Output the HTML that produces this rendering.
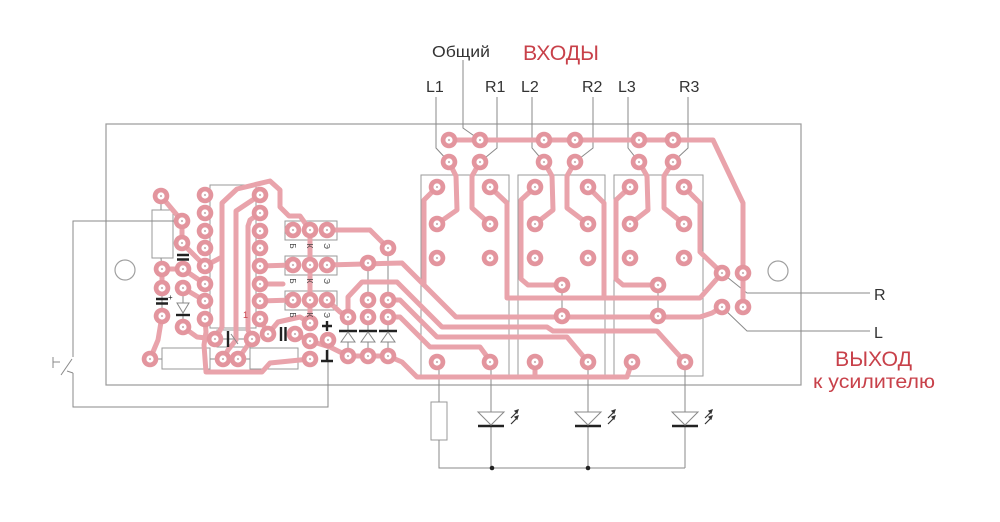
<!DOCTYPE html>
<html><head><meta charset="utf-8"><style>
html,body{margin:0;padding:0;background:#fff;}
svg{display:block;}
text{font-family:"Liberation Sans",Arial,sans-serif;}
</style></head><body>
<svg width="1000" height="522" viewBox="0 0 1000 522" xmlns="http://www.w3.org/2000/svg">
<rect width="1000" height="522" fill="#fff"/>
<!-- board -->
<rect x="106" y="124" width="695" height="261" fill="none" stroke="#9a9a9a" stroke-width="1.2"/>
<circle cx="125" cy="270" r="10" fill="none" stroke="#a0a0a0" stroke-width="1.2"/>
<circle cx="778" cy="271" r="10" fill="none" stroke="#a0a0a0" stroke-width="1.2"/>
<!-- component outlines -->
<g fill="none" stroke="#9a9a9a" stroke-width="1">
<rect x="421" y="175" width="88" height="201"/>
<rect x="518" y="175" width="87" height="201"/>
<rect x="614" y="175" width="89" height="201"/>
<rect x="152" y="210" width="21" height="48"/>
<rect x="162" y="348" width="48" height="21"/>
<rect x="250" y="348" width="48" height="21"/>
<rect x="210" y="185" width="46" height="143"/>
<rect x="217" y="330" width="33" height="17"/>
<rect x="285" y="221" width="52" height="19"/>
<rect x="285" y="256" width="52" height="19"/>
<rect x="285" y="291" width="52" height="19"/>
<rect x="431" y="402" width="16" height="38"/>
</g>
<!-- thin wires -->
<g fill="none" stroke="#8a8a8a" stroke-width="1">
<path d="M182,221 L73,221 L73,357"/>
<path d="M73,373 L73,407 L328,407 L328,340"/>
<path d="M61,375 L72,359"/>
<path d="M53,357 L53,368 M53,362 L60,362"/>
<path d="M67,371 L73,373"/>
<path d="M161,196 L161,210 M161,258 L162,269 M150,359 L162,359 M210,359 L223,359 M238,359 L250,359 M298,359 L310,359"/>
<path d="M215,339 L252,339"/>
<path d="M183,288 L183,327 M162,288 L162,316"/>
<path d="M368,263 L368,300 M388,248 L388,300 M562,285 L562,316 M658,285 L658,316"/>
<path d="M348,317 L348,356 M368,317 L368,356 M388,317 L388,356"/>
<path d="M463,60 L463,128 L480,140"/>
<path d="M436,97 L436,148 L449,162"/>
<path d="M497,97 L497,148 L480,162"/>
<path d="M532,97 L532,148 L544,162"/>
<path d="M593,97 L593,148 L575,162"/>
<path d="M628,97 L628,148 L639,162"/>
<path d="M688,97 L688,148 L673,162"/>
<path d="M722,273 L747,293 L870,293"/>
<path d="M722,307 L747,331 L870,331"/>
<path d="M439,362 L439,402 M439,440 L439,468 L685,468"/>
<path d="M491,362 L491,468 M588,362 L588,468 M685,362 L685,468"/>
</g>
<!-- traces -->
<g fill="none" stroke="#e9a3ab" stroke-width="5" stroke-linejoin="round" stroke-linecap="round">
<path d="M449,140 L713,140 L743,203 L743,307"/>
<path d="M449,162 L456,176 L457,210 L437,224"/>
<path d="M480,162 L472,176 L472,208 L490,224"/>
<path d="M490,187 L507,203 L507,298 L700,298 L722,273"/>
<path d="M437,187 L424,200 L424,285"/>
<path d="M327,265 L402,263 L456,317 L700,317 L712,313 L722,307"/>
<path d="M544,162 L552,176 L553,210 L535,224"/>
<path d="M575,162 L567,176 L567,208 L588,224"/>
<path d="M588,187 L604,203 L604,298"/>
<path d="M535,187 L521,200 L521,279 L528,285 L562,285"/>
<path d="M639,162 L647,176 L648,210 L630,224"/>
<path d="M673,162 L664,176 L664,208 L684,224"/>
<path d="M684,187 L700,203 L700,252 L722,273"/>
<path d="M630,187 L616,200 L616,279 L623,285 L658,285"/>
<path d="M327,300 L340,312 L348,317 L348,297 L362,282 L397,282 L442,327 L547,327 L553,331 L657,331 L685,362"/>
<path d="M388,300 L400,300 L437,337 L567,337 L588,362"/>
<path d="M388,317 L400,317 L430,347 L480,347 L491,362"/>
<path d="M348,356 L388,356 L402,362 L417,377 L627,377 L632,362"/>
<path d="M535,362 L535,377"/>
<path d="M310,341 L330,347 L348,356"/>
<path d="M327,230 L370,230 L388,248"/>
<path d="M161,196 L182,221 L182,243 L205,266"/>
<path d="M162,269 L183,269 L205,284 M162,269 L162,288"/>
<path d="M183,288 L205,301"/>
<path d="M162,316 L158,340 L150,359"/>
<path d="M183,327 L197,337 L215,339"/>
<path d="M205,266 L222,257 L222,203 L237,189 L270,181 L280,190 L280,207 L289,216 L300,216 L310,230"/>
<path d="M222,257 L222,327 L215,339"/>
<path d="M260,195 L248,203 L236,211 L236,340 L228,350 L223,359"/>
<path d="M260,213 L250,220 L248,226 L248,330 L252,339"/>
<path d="M260,266 L293,265 M260,284 L283,284 M260,301 L293,300"/>
<path d="M310,230 L310,323"/>
<path d="M260,319 L268,334 L278,322 L300,317 L310,323"/>
<path d="M295,334 L310,341"/>
<path d="M238,359 L252,339"/>
<path d="M205,319 L206,332 L204,345 L206,372 L262,372 L270,363 L310,359"/>
</g>
<!-- pads -->
<defs>
<g id="p"><circle r="8.3" fill="#e3959e"/><circle r="3.6" fill="#fff"/><circle r="1.1" fill="#c8b4b7"/></g>
</defs>
<g>
<use href="#p" x="161" y="196"/><use href="#p" x="182" y="221"/><use href="#p" x="182" y="243"/>
<use href="#p" x="162" y="269"/><use href="#p" x="183" y="269"/><use href="#p" x="162" y="288"/>
<use href="#p" x="183" y="288"/><use href="#p" x="162" y="316"/><use href="#p" x="183" y="327"/>
<use href="#p" x="150" y="359"/>
<use href="#p" x="205" y="195"/><use href="#p" x="205" y="213"/><use href="#p" x="205" y="231"/><use href="#p" x="205" y="248"/>
<use href="#p" x="205" y="266"/><use href="#p" x="205" y="284"/><use href="#p" x="205" y="301"/><use href="#p" x="205" y="319"/>
<use href="#p" x="260" y="195"/><use href="#p" x="260" y="213"/><use href="#p" x="260" y="231"/><use href="#p" x="260" y="248"/>
<use href="#p" x="260" y="266"/><use href="#p" x="260" y="284"/><use href="#p" x="260" y="301"/><use href="#p" x="260" y="319"/>
<use href="#p" x="215" y="339"/><use href="#p" x="252" y="339"/><use href="#p" x="223" y="359"/><use href="#p" x="238" y="359"/>
<use href="#p" x="268" y="334"/><use href="#p" x="295" y="334"/>
<use href="#p" x="310" y="323"/><use href="#p" x="310" y="341"/><use href="#p" x="328" y="340"/><use href="#p" x="310" y="359"/>
<use href="#p" x="293" y="230"/><use href="#p" x="310" y="230"/><use href="#p" x="327" y="230"/>
<use href="#p" x="293" y="265"/><use href="#p" x="310" y="265"/><use href="#p" x="327" y="265"/>
<use href="#p" x="293" y="300"/><use href="#p" x="310" y="300"/><use href="#p" x="327" y="300"/>
<use href="#p" x="388" y="248"/><use href="#p" x="368" y="263"/><use href="#p" x="368" y="300"/><use href="#p" x="388" y="300"/>
<use href="#p" x="348" y="317"/><use href="#p" x="368" y="317"/><use href="#p" x="388" y="317"/>
<use href="#p" x="348" y="356"/><use href="#p" x="368" y="356"/><use href="#p" x="388" y="356"/>
<use href="#p" x="449" y="140"/><use href="#p" x="480" y="140"/><use href="#p" x="544" y="140"/>
<use href="#p" x="575" y="140"/><use href="#p" x="639" y="140"/><use href="#p" x="673" y="140"/>
<use href="#p" x="449" y="162"/><use href="#p" x="480" y="162"/><use href="#p" x="544" y="162"/>
<use href="#p" x="575" y="162"/><use href="#p" x="639" y="162"/><use href="#p" x="673" y="162"/>
<use href="#p" x="437" y="187"/><use href="#p" x="490" y="187"/><use href="#p" x="437" y="224"/><use href="#p" x="490" y="224"/>
<use href="#p" x="437" y="258"/><use href="#p" x="490" y="258"/><use href="#p" x="437" y="362"/><use href="#p" x="490" y="362"/>
<use href="#p" x="535" y="187"/><use href="#p" x="588" y="187"/><use href="#p" x="535" y="224"/><use href="#p" x="588" y="224"/>
<use href="#p" x="535" y="258"/><use href="#p" x="588" y="258"/><use href="#p" x="535" y="362"/><use href="#p" x="588" y="362"/>
<use href="#p" x="562" y="285"/><use href="#p" x="562" y="316"/>
<use href="#p" x="630" y="187"/><use href="#p" x="684" y="187"/><use href="#p" x="630" y="224"/><use href="#p" x="684" y="224"/>
<use href="#p" x="630" y="258"/><use href="#p" x="684" y="258"/><use href="#p" x="632" y="362"/><use href="#p" x="685" y="362"/>
<use href="#p" x="658" y="285"/><use href="#p" x="658" y="316"/>
<use href="#p" x="722" y="273"/><use href="#p" x="743" y="273"/><use href="#p" x="722" y="307"/><use href="#p" x="743" y="307"/>
</g>
<!-- symbols -->
<g stroke="#222" stroke-width="2.4" fill="none">
<path d="M177,255 L189,255 M177,259.5 L189,259.5"/>
<path d="M156,299 L168,299 M156,303.5 L168,303.5"/>
<path d="M176,315 L190,315"/>
<path d="M281,327 L281,341 M285.5,327 L285.5,341"/>
<path d="M228,331 L228,347"/>
<path d="M322,326 L332,326 M327,321 L327,331"/>
<path d="M327,350 L327,361 M321,361 L333,361"/>
<path d="M339,331 L357,331 M359,331 L377,331 M379,331 L397,331"/>
<path d="M478,426 L504,426 M575,426 L601,426 M672,426 L698,426"/>
</g>
<g stroke="#888" stroke-width="1" fill="#fff">
<polygon points="177,303 189,303 183,313"/>
<polygon points="348,332 341,342 355,342"/>
<polygon points="368,332 361,342 375,342"/>
<polygon points="388,332 381,342 395,342"/>
<polygon points="478,412 504,412 491,425"/>
<polygon points="575,412 601,412 588,425"/>
<polygon points="672,412 698,412 685,425"/>
<path d="M231,334 L238,344" fill="none"/>
</g>
<circle cx="492" cy="468" r="2.3" fill="#222"/>
<circle cx="588" cy="468" r="2.3" fill="#222"/>
<g stroke="#333" stroke-width="1.2" fill="#333">
<path d="M511,418 L517,412 M511,424 L517,418" fill="none"/>
<polygon points="518,410 515,411 517,413" />
<polygon points="518,416 515,417 517,419" />
<path d="M608,418 L614,412 M608,424 L614,418" fill="none"/>
<polygon points="615,410 612,411 614,413" />
<polygon points="615,416 612,417 614,419" />
<path d="M705,418 L711,412 M705,424 L711,418" fill="none"/>
<polygon points="712,410 709,411 711,413" />
<polygon points="712,416 709,417 711,419" />
</g>
<text x="168" y="300" font-size="8" fill="#222">+</text>
<text x="243" y="318" font-size="9" fill="#c8414a">1</text>
<!-- header labels -->
<g font-size="8" fill="#444" text-anchor="middle">
<text transform="translate(293,246) rotate(90)" dy="3">Б</text>
<text transform="translate(310,246) rotate(90)" dy="3">К</text>
<text transform="translate(327,246) rotate(90)" dy="3">Э</text>
<text transform="translate(293,281) rotate(90)" dy="3">Б</text>
<text transform="translate(310,281) rotate(90)" dy="3">К</text>
<text transform="translate(327,281) rotate(90)" dy="3">Э</text>
<text transform="translate(293,315) rotate(90)" dy="3">Б</text>
<text transform="translate(310,315) rotate(90)" dy="3">К</text>
<text transform="translate(327,315) rotate(90)" dy="3">Э</text>
</g>
<!-- labels -->
<g fill="#333" font-size="16">
<text x="432" y="57" textLength="58" lengthAdjust="spacingAndGlyphs">Общий</text>
<text x="426" y="92">L1</text>
<text x="485" y="92">R1</text>
<text x="521" y="92">L2</text>
<text x="582" y="92">R2</text>
<text x="618" y="92">L3</text>
<text x="679" y="92">R3</text>
<text x="874" y="300">R</text>
<text x="874" y="338">L</text>
</g>
<g fill="#c8414a">
<text x="523" y="60" font-size="21" textLength="76" lengthAdjust="spacingAndGlyphs">ВХОДЫ</text>
<text x="835" y="366" font-size="21" textLength="77" lengthAdjust="spacingAndGlyphs">ВЫХОД</text>
<text x="813" y="388" font-size="19" textLength="122" lengthAdjust="spacingAndGlyphs">к усилителю</text>
</g>
</svg>
</body></html>
